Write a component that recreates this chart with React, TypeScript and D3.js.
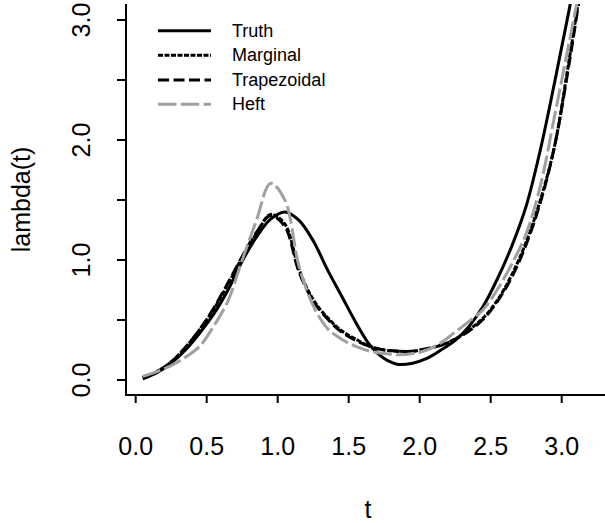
import React, { useEffect, useRef } from "react";
import * as d3 from "d3";

// time grid shared by all curves
const tGrid = [0.05, 0.15, 0.25, 0.35, 0.45, 0.55, 0.65, 0.75, 0.85, 0.95, 1.05, 1.15, 1.25, 1.35, 1.45, 1.55,
  1.65, 1.75, 1.85, 1.95, 2.05, 2.15, 2.25, 2.35, 2.45, 2.55, 2.65, 2.75, 2.85, 2.95, 3.05, 3.15];

const truth = [0.01, 0.06, 0.14, 0.25, 0.39, 0.55, 0.75, 0.99, 1.19, 1.34, 1.40, 1.33, 1.16, 0.92, 0.70, 0.48,
  0.29, 0.18, 0.13, 0.14, 0.18, 0.25, 0.33, 0.45, 0.62, 0.85, 1.12, 1.45, 1.92, 2.48, 3.07, 3.70];

const marginal = [0.02, 0.07, 0.15, 0.27, 0.42, 0.59, 0.80, 1.02, 1.22, 1.38, 1.30, 0.92, 0.67, 0.52, 0.41, 0.34,
  0.28, 0.25, 0.24, 0.24, 0.26, 0.29, 0.34, 0.42, 0.52, 0.67, 0.88, 1.15, 1.50, 1.95, 2.65, 3.40];

const trapezoidal = [0.02, 0.07, 0.15, 0.27, 0.42, 0.60, 0.81, 1.03, 1.23, 1.37, 1.28, 0.90, 0.66, 0.51, 0.40, 0.33,
  0.28, 0.25, 0.24, 0.24, 0.26, 0.29, 0.34, 0.41, 0.51, 0.66, 0.86, 1.13, 1.48, 1.95, 2.62, 3.38];

const heft = [0.03, 0.07, 0.12, 0.19, 0.28, 0.45, 0.66, 1.00, 1.33, 1.64, 1.50, 0.95, 0.62, 0.43, 0.34, 0.28,
  0.24, 0.22, 0.21, 0.22, 0.25, 0.31, 0.40, 0.49, 0.59, 0.76, 0.97, 1.22, 1.62, 2.20, 2.80, 3.40];

const seriesNames = ["Truth", "Marginal", "Trapezoidal", "Heft"];
const xTicks = [0, 0.5, 1, 1.5, 2, 2.5, 3];
const yTicks = [0, 0.5, 1, 1.5, 2, 2.5, 3];

const App = () => {
  const ref = useRef<SVGSVGElement>(null);

  useEffect(() => {
    const width = 605;
    const height = 523;
    const plot = { left: 126, right: 610, top: 4, bottom: 395 };

    const svg = d3.select(ref.current).attr("width", width).attr("height", height);
    svg.selectAll("*").remove();

    const x = d3.scaleLinear().domain([0, 3]).range([135.7, 561.7]);
    const y = d3.scaleLinear().domain([0, 3]).range([380, 20]);

    const font = "'Liberation Sans', Arial, Helvetica, sans-serif";

    svg.append("defs").append("clipPath").attr("id", "plotClip")
      .append("rect")
      .attr("x", plot.left).attr("y", plot.top)
      .attr("width", plot.right - plot.left).attr("height", plot.bottom - plot.top);

    const styles = [
      { data: truth, color: "#000", dash: null },
      { data: marginal, color: "#000", dash: "5,1.5" },
      { data: trapezoidal, color: "#000", dash: "11,4.5" },
      { data: heft, color: "#a0a0a0", dash: "18.5,4.3" },
    ];

    const line = d3.line<number>()
      .x((d, i) => x(tGrid[i]))
      .y(d => y(d))
      .curve(d3.curveCatmullRom.alpha(0.5));

    // curves, Heft drawn last like in the original plot
    const curves = svg.append("g").attr("clip-path", "url(#plotClip)");
    styles.forEach(s => {
      curves.append("path")
        .datum(s.data)
        .attr("d", line)
        .attr("fill", "none")
        .attr("stroke", s.color)
        .attr("stroke-width", 3)
        .attr("stroke-dasharray", s.dash)
        .attr("stroke-linejoin", "round");
    });

    // L-shaped box
    svg.append("path")
      .attr("d", `M${plot.left},${plot.top}V${plot.bottom}H${width}`)
      .attr("fill", "none").attr("stroke", "#000").attr("stroke-width", 2);

    // x axis
    const xg = svg.append("g");
    xg.selectAll("line").data(xTicks).join("line")
      .attr("x1", d => x(d)).attr("x2", d => x(d))
      .attr("y1", plot.bottom).attr("y2", plot.bottom + 8)
      .attr("stroke", "#000").attr("stroke-width", 2);
    xg.selectAll("text").data(xTicks).join("text")
      .attr("x", d => x(d)).attr("y", 455)
      .attr("text-anchor", "middle")
      .attr("font-family", font).attr("font-size", 25)
      .text(d => d3.format(".1f")(d));

    // y axis
    const yg = svg.append("g");
    yg.selectAll("line").data(yTicks).join("line")
      .attr("x1", plot.left - 9).attr("x2", plot.left)
      .attr("y1", d => y(d)).attr("y2", d => y(d))
      .attr("stroke", "#000").attr("stroke-width", 2);
    yg.selectAll("text").data(yTicks.filter((d, i) => i % 2 === 0)).join("text")
      .attr("transform", d => `translate(90, ${y(d)}) rotate(-90)`)
      .attr("text-anchor", "middle")
      .attr("font-family", font).attr("font-size", 25)
      .text(d => d3.format(".1f")(d));

    // axis titles
    svg.append("text")
      .attr("x", (plot.left + plot.right) / 2).attr("y", 518)
      .attr("text-anchor", "middle")
      .attr("font-family", font).attr("font-size", 25)
      .text("t");
    svg.append("text")
      .attr("transform", `translate(30, ${(plot.top + plot.bottom) / 2}) rotate(-90)`)
      .attr("text-anchor", "middle")
      .attr("font-family", font).attr("font-size", 25)
      .text("lambda(t)");

    // legend
    const legend = svg.append("g");
    const rowY = [30.7, 55.3, 80, 104.3];
    seriesNames.forEach((name, i) => {
      const s = styles[i];
      legend.append("line")
        .attr("x1", 158).attr("x2", 211)
        .attr("y1", rowY[i]).attr("y2", rowY[i])
        .attr("stroke", s.color).attr("stroke-width", 3)
        .attr("stroke-dasharray", s.dash);
      legend.append("text")
        .attr("x", 232).attr("y", rowY[i])
        .attr("dominant-baseline", "central")
        .attr("font-family", font).attr("font-size", 18)
        .text(name);
    });
  }, []);

  return (
    <svg ref={ref} style={{ position: "absolute", left: 0, top: 0, background: "#fff" }}></svg>
  );
};

export default App;
